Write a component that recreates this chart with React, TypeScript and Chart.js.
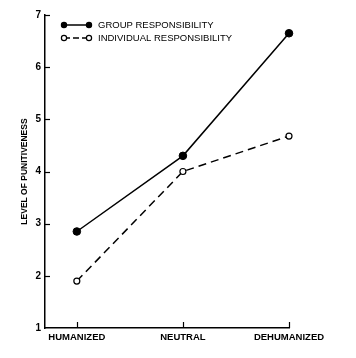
import React, { useEffect, useRef } from "react";
import { Chart, registerables } from "chart.js";
Chart.register(...registerables);

const categories = ["HUMANIZED", "NEUTRAL", "DEHUMANIZED"];
const groupValues = [2.85, 4.3, 6.65];
const individualValues = [1.9, 4.0, 4.68];
const yTicks = [1, 2, 3, 4, 5, 6, 7];
const seriesNames = ["GROUP RESPONSIBILITY", "INDIVIDUAL RESPONSIBILITY"];
const yTitle = "LEVEL OF PUNITIVENESS";

const FONT = "'Liberation Sans', Arial, sans-serif";

const innerTicks = {
  id: "innerTicks",
  afterDraw(chart: any) {
    const { ctx, chartArea, scales } = chart;
    ctx.save();
    ctx.strokeStyle = "#000";
    ctx.lineWidth = 1.2;
    scales.y.ticks.forEach((t: any) => {
      if (t.value === 1) return;
      const y = Math.round(scales.y.getPixelForValue(t.value)) + 0.5;
      ctx.beginPath();
      ctx.moveTo(chartArea.left, y);
      ctx.lineTo(chartArea.left + 5, y);
      ctx.stroke();
    });
    scales.x.ticks.forEach((t: any) => {
      const x = Math.round(scales.x.getPixelForValue(t.value)) + 0.5;
      ctx.beginPath();
      ctx.moveTo(x, chartArea.bottom);
      ctx.lineTo(x, chartArea.bottom - 6);
      ctx.stroke();
    });
    // legend
    const items = [
      { y: 25, dash: [], fill: "#000" },
      { y: 38, dash: [6, 3], fill: "#fff" },
    ];
    items.forEach((it, i) => {
      ctx.setLineDash(it.dash);
      ctx.lineWidth = 1.5;
      ctx.beginPath();
      ctx.moveTo(64, it.y);
      ctx.lineTo(89, it.y);
      ctx.stroke();
      ctx.setLineDash([]);
      [64, 89].forEach((x) => {
        ctx.beginPath();
        ctx.arc(x, it.y, 2.6, 0, Math.PI * 2);
        ctx.fillStyle = it.fill;
        ctx.fill();
        ctx.lineWidth = 1.2;
        ctx.stroke();
      });
      ctx.fillStyle = "#000";
      ctx.font = `9.5px ${FONT}`;
      ctx.textBaseline = "middle";
      ctx.textAlign = "left";
      ctx.fillText(seriesNames[i], 98, it.y + 0.5);
    });
    ctx.restore();
  },
};

export default function App() {
  const ref = useRef<HTMLCanvasElement>(null);
  useEffect(() => {
    document.body.style.margin = "0";
    Chart.defaults.font.family = FONT;
    const chart = new Chart(ref.current!, {
      type: "line",
      data: {
        datasets: [
          {
            label: seriesNames[0],
            data: groupValues.map((v, i) => ({ x: i, y: v })),
            borderColor: "#000",
            backgroundColor: "#000",
            borderWidth: 1.5,
            pointRadius: 3.8,
            pointBorderWidth: 1,
            pointBackgroundColor: "#000",
            pointBorderColor: "#000",
            clip: false as any,
          },
          {
            label: seriesNames[1],
            data: individualValues.map((v, i) => ({ x: i, y: v })),
            borderColor: "#000",
            borderWidth: 1.5,
            borderDash: [8, 5],
            pointRadius: 3,
            pointBorderWidth: 1.2,
            pointBackgroundColor: "#fff",
            pointBorderColor: "#000",
            clip: false as any,
          },
        ],
      },
      options: {
        animation: false,
        responsive: false,
        layout: { padding: { top: 15, right: 67, left: 0, bottom: 0 } },
        plugins: { legend: { display: false }, tooltip: { enabled: false } },
        scales: {
          x: {
            type: "linear",
            min: -0.3,
            max: 2,
            afterBuildTicks: (s: any) => {
              s.ticks = categories.map((_, i) => ({ value: i }));
            },
            afterFit: (s: any) => {
              s.height = 30;
            },
            grid: { display: false, drawTicks: false },
            border: { display: true, color: "#000", width: 1.5 },
            ticks: {
              callback: (v: any) => categories[v],
              color: "#000",
              font: { size: 9.5, weight: "bold" },
              padding: 4,
              autoSkip: false,
              maxRotation: 0,
            },
          },
          y: {
            min: 1,
            max: 7,
            afterBuildTicks: (s: any) => {
              s.ticks = yTicks.map((v) => ({ value: v }));
            },
            afterFit: (s: any) => {
              s.width = 45;
            },
            grid: { display: false, drawTicks: false },
            border: { display: true, color: "#000", width: 1.5 },
            ticks: {
              callback: (v: any) => String(v),
              color: "#000",
              font: { size: 10, weight: "bold" },
              padding: 4,
            },
            title: {
              display: true,
              text: yTitle,
              color: "#000",
              font: { size: 8.5, weight: "bold" },
              padding: { top: 20, bottom: 0 },
            },
          },
        },
      },
      plugins: [innerTicks],
    } as any);
    return () => chart.destroy();
  }, []);
  return <canvas ref={ref} width={356} height={358} style={{ display: "block" }} />;
}
